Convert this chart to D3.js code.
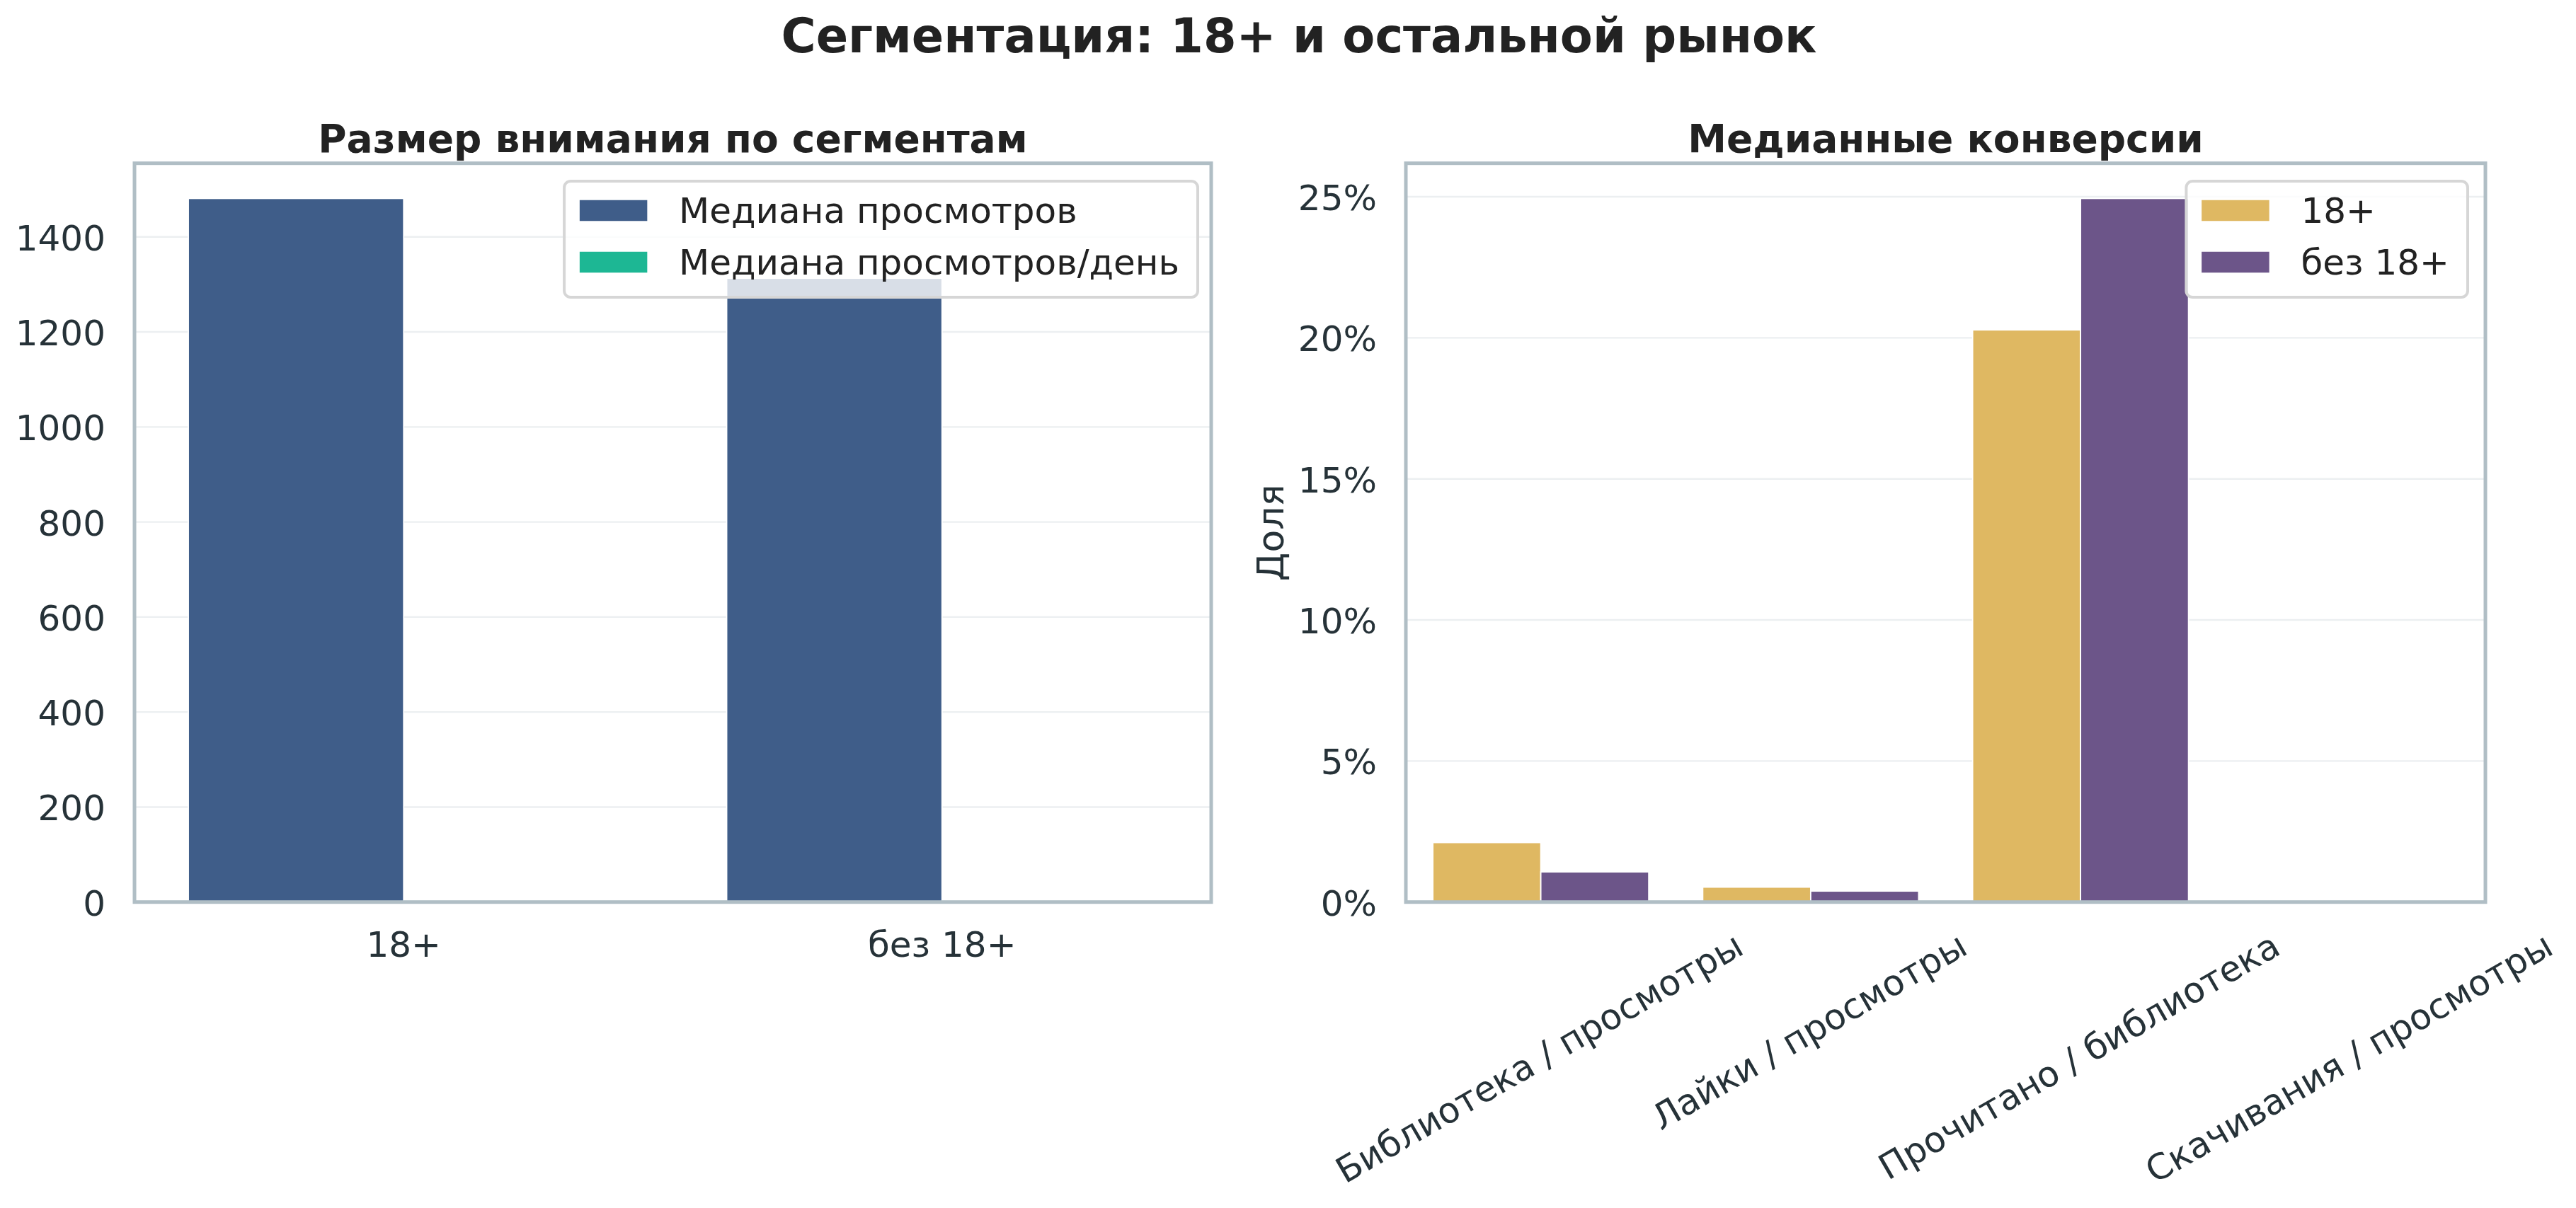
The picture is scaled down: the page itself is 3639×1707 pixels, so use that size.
<!DOCTYPE html>
<html>
<head>
<meta charset="utf-8">
<script src="https://cdn.jsdelivr.net/npm/d3@7"></script>
<style>
  html, body { margin: 0; padding: 0; background: #ffffff; }
  svg { display: block; font-family: "DejaVu Sans", sans-serif; }
</style>
</head>
<body>
<svg id="chart" width="3639" height="1707"></svg>
<script>
// ---------- DATA ----------
const segments = ["18+", "без 18+"];
const medianViews = [1481, 1313];
const medianViewsPerDay = [2.4, 2.1];
const attentionSeries = ["Медиана просмотров", "Медиана просмотров/день"];
const attentionTicks = [0, 200, 400, 600, 800, 1000, 1200, 1400];

const conversionCategories = ["Библиотека / просмотры", "Лайки / просмотры", "Прочитано / библиотека", "Скачивания / просмотры"];
const conv18 = [2.11, 0.53, 20.28, 0.0];
const convNo18 = [1.07, 0.39, 24.94, 0.0];
const conversionSeries = ["18+", "без 18+"];
const conversionTicks = [0, 5, 10, 15, 20, 25];

const suptitle = "Сегментация: 18+ и остальной рынок";
const leftTitle = "Размер внимания по сегментам";
const rightTitle = "Медианные конверсии";
const rightYLabel = "Доля";

// ---------- STYLE ----------
const C = {
  blue: "#3f5d89", green: "#1db794", yellow: "#dfb862", purple: "#6c5589",
  spine: "#b0bec5", grid: "#eceff1", tick: "#263238", title: "#222222", legendEdge: "#d6d6d6"
};
const FS = { sup: 67, title: 55, tick: 50, label: 52, legend: 50 };

const svg = d3.select("#chart");
svg.append("rect").attr("width", 3639).attr("height", 1707).attr("fill", "#fff");

const axTop = 230.7, axBottom = 1274.7;
const panels = [
  { left: 190, right: 1711 },
  { left: 1986, right: 3511 }
];

svg.append("text").attr("x", 1835).attr("y", 74).attr("text-anchor", "middle")
  .attr("font-size", FS.sup).attr("font-weight", "bold").attr("fill", C.title).text(suptitle);

function drawPanel(p, cats, seriesVals, colors, ticks, tickFmt, title, legendLabels, legendRight, rotate, ylabel) {
  const g = svg.append("g");
  const x = d3.scaleBand().domain(d3.range(cats.length)).range([p.left, p.right]).padding(0);
  const maxV = d3.max(seriesVals.flat());
  const y = d3.scaleLinear().domain([0, maxV * 1.05]).range([axBottom, axTop]);

  // grid
  g.selectAll(".grid").data(ticks).join("line")
    .attr("x1", p.left).attr("x2", p.right)
    .attr("y1", d => y(d)).attr("y2", d => y(d))
    .attr("stroke", C.grid).attr("stroke-width", 2.4);

  // bars
  const bw = x.bandwidth() * 0.4;
  seriesVals.forEach((vals, si) => {
    g.selectAll(".bar" + si).data(vals).join("rect")
      .attr("x", (d, i) => x(i) + x.bandwidth() / 2 - bw + si * bw)
      .attr("width", bw)
      .attr("y", d => y(d))
      .attr("height", d => axBottom - y(d))
      .attr("fill", colors[si])
      .attr("stroke", "#fff").attr("stroke-width", 1.8);
  });

  // spines
  g.append("rect").attr("x", p.left).attr("y", axTop).attr("width", p.right - p.left).attr("height", axBottom - axTop)
    .attr("fill", "none").attr("stroke", C.spine).attr("stroke-width", 5);

  // y ticks
  g.selectAll(".yt").data(ticks).join("text")
    .attr("x", p.left - 41).attr("y", d => y(d) + FS.tick * 0.38)
    .attr("text-anchor", "end").attr("font-size", FS.tick).attr("fill", C.tick)
    .text(tickFmt);

  // x ticks
  if (!rotate) {
    g.selectAll(".xt").data(cats).join("text")
      .attr("x", (d, i) => x(i) + x.bandwidth() / 2).attr("y", 1351.7)
      .attr("text-anchor", "middle").attr("font-size", FS.tick).attr("fill", C.tick).text(d => d);
  } else {
    const T = 1313.7, a = 0.76 * FS.tick, dsc = 0.24 * FS.tick;
    cats.forEach((c, i) => {
      const t = g.append("text").attr("text-anchor", "end").attr("font-size", FS.tick).attr("fill", C.tick).text(c);
      const w = t.node().getComputedTextLength();
      const cx = x(i) + x.bandwidth() / 2;
      const px = cx + (0.866 * w + 0.5 * a - 0.5 * dsc) / 2;
      const py = T + 0.866 * a;
      t.attr("transform", `translate(${px},${py}) rotate(-30)`);
    });
  }

  // title
  g.append("text").attr("x", (p.left + p.right) / 2).attr("y", 215).attr("text-anchor", "middle")
    .attr("font-size", FS.title).attr("font-weight", "bold").attr("fill", C.title).text(title);

  if (ylabel) {
    g.append("text").attr("transform", `translate(1813,${(axTop + axBottom) / 2}) rotate(-90)`)
      .attr("text-anchor", "middle").attr("font-size", FS.label).attr("fill", C.tick).text(ylabel);
  }

  // legend
  const lg = g.append("g");
  const tmp = lg.append("text").attr("font-size", FS.legend);
  const tw = d3.max(legendLabels.map(l => { tmp.text(l); return tmp.node().getComputedTextLength(); }));
  tmp.remove();
  const boxW = 21 + 97 + 44 + tw + 26;
  const bx = legendRight - boxW, by = 256, bh = 164;
  lg.append("rect").attr("x", bx).attr("y", by).attr("width", boxW).attr("height", bh)
    .attr("rx", 9).attr("fill", "#fff").attr("fill-opacity", 0.8)
    .attr("stroke", C.legendEdge).attr("stroke-width", 4);
  legendLabels.forEach((l, i) => {
    lg.append("rect").attr("x", bx + 21).attr("y", by + 26 + i * 73).attr("width", 97).attr("height", 31)
      .attr("fill", colors[i]).attr("stroke", "#fff").attr("stroke-width", 1.5);
    lg.append("text").attr("x", bx + 21 + 97 + 44).attr("y", by + 59 + i * 73)
      .attr("font-size", FS.legend).attr("fill", C.title).text(l);
  });
}

drawPanel(panels[0], segments, [medianViews, medianViewsPerDay], [C.blue, C.green],
  attentionTicks, d => String(d), leftTitle, attentionSeries, 1692, false, null);
drawPanel(panels[1], conversionCategories, [conv18, convNo18], [C.yellow, C.purple],
  conversionTicks, d => d + "%", rightTitle, conversionSeries, 3486, true, rightYLabel);
</script>
</body>
</html>
